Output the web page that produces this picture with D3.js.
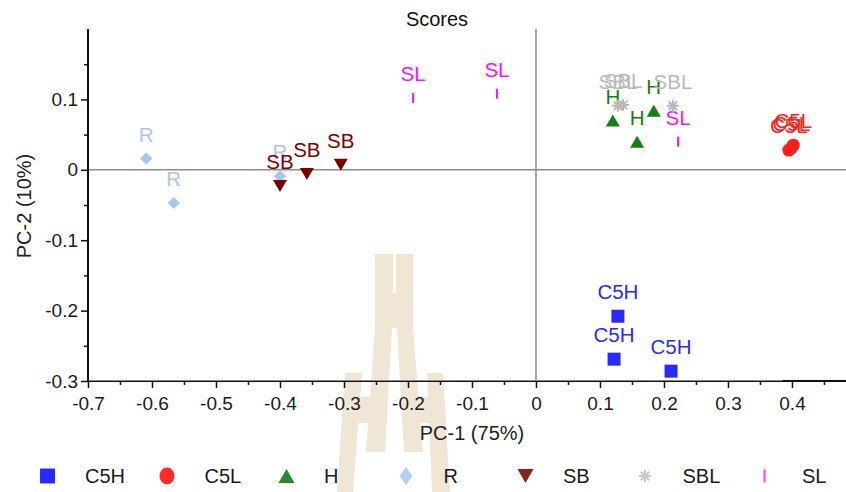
<!DOCTYPE html>
<html><head><meta charset="utf-8">
<script src="https://cdn.jsdelivr.net/npm/d3@7"></script>
<style>
html,body{margin:0;padding:0;background:#fff;}
svg{display:block;font-family:"Liberation Sans",Arial,sans-serif;}
</style></head>
<body>
<svg id="chart" width="846" height="492"></svg>
<script>
// ---- data ----
const categories = ["C5H","C5L","H","R","SB","SBL","SL"];
const c5hX = [0.128, 0.122, 0.211];
const c5hY = [-0.208, -0.269, -0.286];
const c5lX = [0.395, 0.399, 0.402];
const c5lY = [0.028, 0.031, 0.035];
const hX = [0.120, 0.184, 0.158];
const hY = [0.070, 0.084, 0.040];
const rX = [-0.609, -0.566, -0.400];
const rY = [0.016, -0.047, -0.009];
const sbX = [-0.400, -0.358, -0.305];
const sbY = [-0.023, -0.006, 0.007];
const sblX = [0.128, 0.136, 0.214];
const sblY = [0.091, 0.092, 0.091];
const slX = [-0.192, -0.061, 0.222];
const slY = [0.102, 0.108, 0.040];
const xTickLabels = [-0.7,-0.6,-0.5,-0.4,-0.3,-0.2,-0.1,0,0.1,0.2,0.3,0.4];
const xMinorTicks = [-0.65,-0.55,-0.45,-0.35,-0.25,-0.15,-0.05,0.05,0.15,0.25,0.35,0.45];
const yTickLabels = [-0.3,-0.2,-0.1,0,0.1];
const yMinorTicks = [-0.25,-0.15,-0.05,0.05,0.15];

// ---- styles ----
const markColor = {C5H:"#2a2aff",C5L:"#ff1e1e",H:"#138013",R:"#a6c8f0",SB:"#7a0000",SBL:"#b9b9b9",SL:"#ff10ff"};
const legendColor = {C5H:"#2a2aff",C5L:"#ff2a2a",H:"#2a8a2a",R:"#b0d0f2",SB:"#8b2222",SBL:"#c8c8c8",SL:"#ff40ff"};
const seriesData = {
  C5H:[c5hX,c5hY], C5L:[c5lX,c5lY], H:[hX,hY], R:[rX,rY], SB:[sbX,sbY], SBL:[sblX,sblY], SL:[slX,slY]
};

const svg = d3.select("#chart");
const x = d3.scaleLinear().domain([-0.7, 0.4844]).range([88, 846]);
const y = d3.scaleLinear().domain([-0.3, 0.2]).range([381, 29]);
const fmt = d => d === 0 ? "0" : String(+d.toFixed(1));

// watermark (decoration)
const wm = svg.append("g").attr("fill","#efe6d6");
[
  [[375,254],[393,254],[393,293],[375,293]],
  [[396,254],[413,254],[413,293],[396,293]],
  [[375,293],[413,293],[413,328],[375,328]],
  [[375,328],[392,328],[385,452],[366,452]],
  [[397,328],[413,328],[423,452],[404,452]],
  [[345,373],[362,373],[353,492],[337,492]],
  [[427,373],[443,373],[450,492],[432,492]],
  [[360,397],[372,397],[370,423],[358,423]],
  [[417,397],[430,397],[432,423],[419,423]]
].forEach(p => wm.append("polygon").attr("points", p.map(q=>q.join(",")).join(" ")));

// zero lines
svg.append("line").attr("x1",x(-0.7)).attr("x2",846).attr("y1",y(0)).attr("y2",y(0))
  .attr("stroke","#8c8c8c").attr("stroke-width",1.5);
svg.append("line").attr("x1",x(0)).attr("x2",x(0)).attr("y1",y(0.2)).attr("y2",y(-0.3))
  .attr("stroke","#8c8c8c").attr("stroke-width",1.5);

// axes
const gx = svg.append("g").attr("transform",`translate(0,${y(-0.3)})`);
gx.call(d3.axisBottom(x).tickValues(xTickLabels).tickSize(7).tickPadding(9).tickFormat(fmt));
const gxm = svg.append("g").attr("transform",`translate(0,${y(-0.3)})`);
gxm.call(d3.axisBottom(x).tickValues(xMinorTicks).tickSize(4).tickFormat(""));
const gy = svg.append("g").attr("transform",`translate(${x(-0.7)},0)`);
gy.call(d3.axisLeft(y).tickValues(yTickLabels).tickSize(7).tickPadding(3).tickFormat(fmt));
const gym = svg.append("g").attr("transform",`translate(${x(-0.7)},0)`);
gym.call(d3.axisLeft(y).tickValues(yMinorTicks).tickSize(4).tickFormat(""));
[gx,gxm,gy,gym].forEach(g=>{
  g.select(".domain").remove();
  g.selectAll(".tick line").attr("stroke","#111").attr("stroke-width",1.5);
  g.selectAll(".tick text").attr("fill","#1a1a1a").style("font-size","19px").style("font-family","'Liberation Sans',Arial,sans-serif");
});
svg.append("line").attr("x1",x(-0.7)-1).attr("x2",846).attr("y1",y(-0.3)).attr("y2",y(-0.3))
  .attr("stroke","#111").attr("stroke-width",2);
svg.append("line").attr("x1",x(-0.7)).attr("x2",x(0.385)).attr("y1",y(-0.3)-0.5).attr("y2",y(-0.3)-0.5)
  .attr("stroke","#888").attr("stroke-width",1);
svg.append("line").attr("x1",x(-0.7)).attr("x2",x(-0.7)).attr("y1",y(0.2)).attr("y2",y(-0.3)+1)
  .attr("stroke","#111").attr("stroke-width",2);

// titles
svg.append("text").attr("x",437).attr("y",26).attr("text-anchor","middle")
  .attr("fill","#111").style("font-size","20px").text("Scores");
svg.append("text").attr("x",472).attr("y",440).attr("text-anchor","middle")
  .attr("fill","#222").style("font-size","20px").text("PC-1 (75%)");
svg.append("text").attr("transform","translate(31,206) rotate(-90)").attr("text-anchor","middle")
  .attr("fill","#222").style("font-size","20px").text("PC-2 (10%)");

// symbol painters
function drawSymbol(g, cat, cx, cy, color, big) {
  const s = big ? 1.15 : 1;
  if (cat === "C5H") {
    const a = 13*s;
    g.append("rect").attr("x",cx-a/2).attr("y",cy-a/2).attr("width",a).attr("height",a).attr("fill",color);
  } else if (cat === "C5L") {
    g.append("ellipse").attr("cx",cx).attr("cy",cy).attr("rx",6.5*s).attr("ry",(big?8.5:6.5)).attr("fill",color);
  } else if (cat === "H") {
    const w = 14*s, h = 12*s;
    g.append("path").attr("d",`M${cx-w/2},${cy+h/2}L${cx+w/2},${cy+h/2}L${cx},${cy-h/2}Z`).attr("fill",color);
  } else if (cat === "R") {
    const w = big?13:12.5, h = big?18:12;
    g.append("path").attr("d",`M${cx},${cy-h/2}L${cx+w/2},${cy}L${cx},${cy+h/2}L${cx-w/2},${cy}Z`).attr("fill",color);
  } else if (cat === "SB") {
    const w = 14*s, h = 12*s;
    g.append("path").attr("d",`M${cx-w/2},${cy-h/2}L${cx+w/2},${cy-h/2}L${cx},${cy+h/2}Z`).attr("fill",color);
  } else if (cat === "SBL") {
    const r = 6;
    let d = "";
    for (let i=0;i<4;i++){
      const ang = i*Math.PI/4;
      d += `M${cx-r*Math.cos(ang)},${cy-r*Math.sin(ang)}L${cx+r*Math.cos(ang)},${cy+r*Math.sin(ang)}`;
    }
    g.append("path").attr("d",d).attr("stroke",color).attr("stroke-width",2).attr("fill","none");
  } else if (cat === "SL") {
    const h = big?13:10;
    g.append("line").attr("x1",cx).attr("x2",cx).attr("y1",cy-h/2).attr("y2",cy+h/2)
      .attr("stroke",color).attr("stroke-width",2);
  }
}

// points and labels
const pts = svg.append("g");
categories.forEach(cat => {
  const [xs, ys] = seriesData[cat];
  xs.forEach((vx,i) => {
    const px = x(vx), py = y(ys[i]);
    pts.append("text").attr("x",px).attr("y",py-17).attr("text-anchor","middle")
      .attr("fill",markColor[cat]).style("font-size","20.5px").text(cat);
  });
});
categories.forEach(cat => {
  const [xs, ys] = seriesData[cat];
  xs.forEach((vx,i) => drawSymbol(pts, cat, x(vx), y(ys[i]), markColor[cat], false));
});

// legend
const legX0 = 47.5, legStep = 119.5, legY = 476;
const leg = svg.append("g");
categories.forEach((cat,i) => {
  const sx = legX0 + i*legStep;
  drawSymbol(leg, cat, sx, legY, legendColor[cat], true);
  leg.append("text").attr("x",sx+37.5).attr("y",legY+7).attr("fill","#1a1a1a")
    .style("font-size","20px").text(cat);
});
</script>
</body></html>
